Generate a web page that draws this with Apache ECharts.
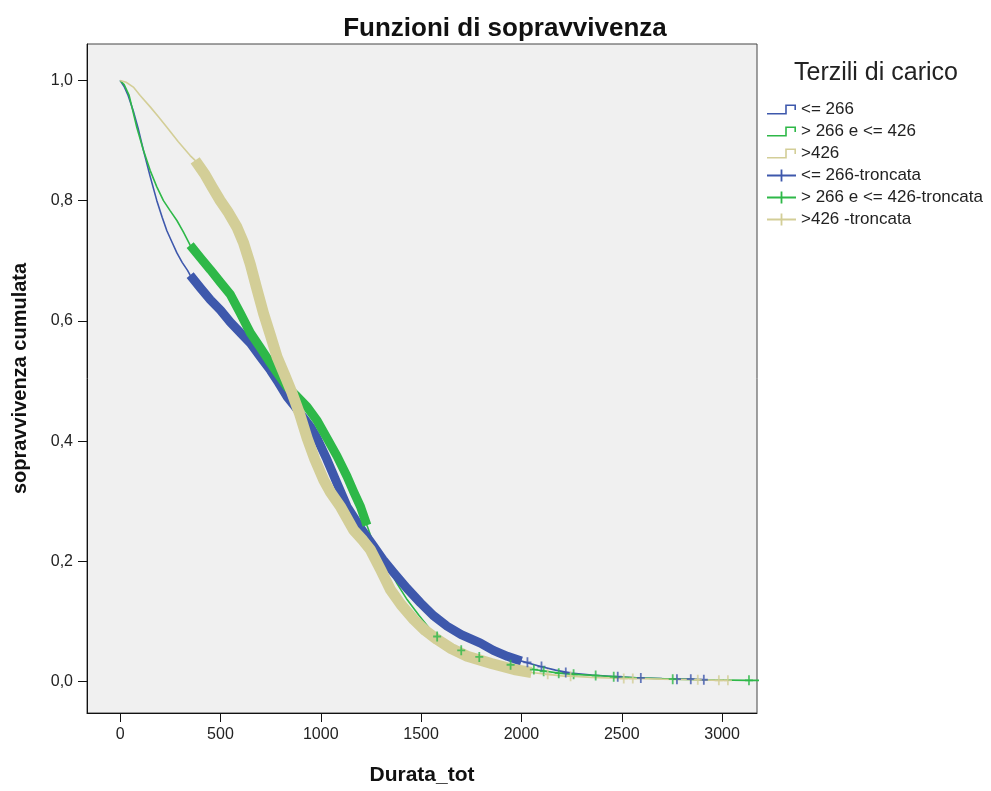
<!DOCTYPE html>
<html>
<head>
<meta charset="utf-8">
<script src="https://cdn.jsdelivr.net/npm/echarts@6/dist/echarts.min.js"></script>
<style>
  html, body { margin: 0; padding: 0; background: #ffffff; }
  #chart { width: 991px; height: 791px; }
</style>
</head>
<body>
<div id="chart"></div>
<script>
// ---- Data ----
const seriesNames = ['<= 266', '> 266 e <= 426', '>426'];
const censorNames = ['<= 266-troncata', '> 266 e <= 426-troncata', '>426 -troncata'];
const xTicks = [0, 500, 1000, 1500, 2000, 2500, 3000];
const yTicks = [0, 0.2, 0.4, 0.6, 0.8, 1.0];

// survival curves: [Durata_tot, sopravvivenza cumulata]
const curveLow = [[0,1.0],[20,0.99],[40,0.975],[65,0.95],[90,0.92],[116,0.884],[150,0.84],[183,0.80],[210,0.772],[233,0.75],[260,0.73],[283,0.713],[310,0.697],[336,0.684],[349,0.676],[400,0.655],[450,0.635],[500,0.618],[549,0.598],[600,0.58],[649,0.563],[700,0.54],[749,0.518],[790,0.497],[832,0.474],[870,0.458],[900,0.445],[950,0.423],[981,0.405],[1030,0.37],[1081,0.33],[1131,0.291],[1200,0.255],[1264,0.225],[1310,0.203],[1364,0.181],[1430,0.155],[1497,0.131],[1560,0.11],[1630,0.092],[1700,0.078],[1796,0.064],[1860,0.052],[1930,0.042],[2000,0.034],[2096,0.025],[2170,0.019],[2246,0.014],[2350,0.011],[2480,0.008],[2595,0.006],[2700,0.005],[2844,0.004],[2910,0.003]];
const curveMid = [[0,1.0],[20,0.993],[45,0.975],[83,0.922],[115,0.885],[150,0.85],[183,0.823],[216,0.80],[250,0.783],[283,0.767],[315,0.748],[349,0.726],[400,0.705],[450,0.685],[500,0.664],[549,0.644],[600,0.612],[649,0.58],[700,0.555],[749,0.53],[790,0.51],[832,0.49],[880,0.475],[932,0.457],[980,0.435],[1031,0.405],[1081,0.375],[1131,0.341],[1165,0.315],[1198,0.291],[1230,0.26],[1256,0.236],[1290,0.215],[1331,0.192],[1380,0.163],[1431,0.136],[1490,0.11],[1547,0.086],[1600,0.071],[1663,0.059],[1750,0.046],[1830,0.037],[1950,0.027],[2062,0.020],[2186,0.014],[2260,0.012],[2370,0.010],[2460,0.008],[2600,0.006],[2754,0.004],[2900,0.003],[3134,0.002],[3200,0.002]];
const curveHigh = [[0,1.0],[30,0.997],[66,0.989],[100,0.975],[150,0.956],[190,0.94],[233,0.922],[290,0.898],[349,0.875],[374,0.867],[420,0.845],[460,0.822],[499,0.80],[540,0.78],[582,0.756],[615,0.73],[649,0.694],[680,0.655],[715,0.612],[750,0.575],[782,0.54],[820,0.51],[857,0.48],[895,0.445],[932,0.405],[970,0.37],[1015,0.335],[1048,0.315],[1100,0.29],[1164,0.252],[1210,0.235],[1248,0.219],[1300,0.185],[1347,0.153],[1400,0.128],[1464,0.103],[1520,0.085],[1580,0.07],[1650,0.055],[1730,0.042],[1850,0.03],[1963,0.020],[2050,0.015],[2131,0.012],[2212,0.009],[2245,0.009],[2350,0.007],[2510,0.005],[2555,0.005],[2700,0.004],[2879,0.003],[2984,0.002],[3029,0.002]];

// time ranges where censored cases are dense (drawn as a band)
const bandLow = [349, 2000];
const bandMid = [349, 1230];
const bandHigh = [374, 2060];

// isolated censoring marks
const censorLowTail = [[2030,0.032],[2100,0.025],[2221,0.015],[2480,0.008],[2595,0.006],[2775,0.004],[2844,0.004],[2909,0.003]];
const censorMidTail = [[1580,0.075],[1700,0.052],[1790,0.041],[1946,0.028],[2062,0.02],[2111,0.017],[2186,0.014],[2260,0.012],[2370,0.010],[2460,0.008],[2754,0.004],[3134,0.002]];
const censorHighTail = [[2131,0.012],[2245,0.009],[2510,0.005],[2555,0.005],[2879,0.003],[2984,0.002],[3029,0.002]];

// ---- Styles ----
const colors = ['#3E58AC', '#2EB848', '#D3CE97'];
const bandWidths = [9, 9, 11];
const FONT = 'Liberation Sans, Arial, sans-serif';

const stepIcon = 'path://M0,8.4 L18.2,8.4 L18.2,0 L29,0 L29,5.5 L27.4,5.5 L27.4,1.6 L19.8,1.6 L19.8,10 L0,10 Z';
const plusIcon = 'path://M0,5.1 L29,5.1 L29,6.9 L0,6.9 Z M13.6,0 L15.4,0 L15.4,12 L13.6,12 Z';
const plusMark = 'path://M0,4.1 L8,4.1 L8,5.9 L0,5.9 Z M3.1,0 L4.9,0 L4.9,10 L3.1,10 Z';

const curves = [curveLow, curveMid, curveHigh];
const bands = [bandLow, bandMid, bandHigh];
const tails = [censorLowTail, censorMidTail, censorHighTail];

const series = [];
curves.forEach((c, i) => {
  series.push({
    name: seriesNames[i], type: 'line', data: c, showSymbol: false, symbol: 'none',
    lineStyle: { color: colors[i], width: 1.6 }, itemStyle: { color: colors[i] },
    z: 2, silent: true, animation: false
  });
});
curves.forEach((c, i) => {
  series.push({
    name: censorNames[i], type: 'line',
    data: c.filter(p => p[0] >= bands[i][0] && p[0] <= bands[i][1]),
    showSymbol: false, symbol: 'none',
    lineStyle: { color: colors[i], width: bandWidths[i], join: 'round' }, itemStyle: { color: colors[i] },
    z: 3, silent: true, animation: false
  });
  series.push({
    name: censorNames[i], type: 'scatter', data: tails[i], symbol: plusMark, symbolSize: [8, 10],
    itemStyle: { color: colors[i] }, z: 3, silent: true, animation: false
  });
});

const legendData = seriesNames.map((n, i) => ({ name: n, icon: stepIcon, itemStyle: { color: colors[i], borderWidth: 0 } }))
  .concat(censorNames.map((n, i) => ({ name: n, icon: plusIcon, itemStyle: { color: colors[i], borderWidth: 0 } })));

const chart = echarts.init(document.getElementById('chart'), null, { renderer: 'canvas' });
chart.setOption({
  animation: false,
  backgroundColor: '#ffffff',
  title: [
    { text: 'Funzioni di sopravvivenza', left: 500, top: 11, textAlign: 'center',
      textStyle: { fontFamily: FONT, fontSize: 26, fontWeight: 'bold', color: '#111' } },
    { text: 'Terzili di carico', left: 789, top: 56,
      textStyle: { fontFamily: FONT, fontSize: 25, fontWeight: 'normal', color: '#222' } }
  ],
  legend: {
    data: legendData, orient: 'vertical', left: 762, top: 96,
    itemWidth: 29, itemHeight: 12, itemGap: 5, symbolKeepAspect: true,
    selectedMode: false,
    textStyle: { fontFamily: FONT, fontSize: 17, color: '#222' },
    itemStyle: { borderWidth: 0 }
  },
  grid: {
    left: 87, right: 234, top: 44, bottom: 77,
    show: true, backgroundColor: '#F0F0F0', borderColor: '#444', borderWidth: 1
  },
  xAxis: {
    type: 'value', min: -165, max: 3174,
    name: 'Durata_tot', nameLocation: 'middle', nameGap: 52,
    nameTextStyle: { fontFamily: FONT, fontSize: 21, fontWeight: 'bold', color: '#111' },
    axisLine: { show: true, onZero: false, lineStyle: { color: '#111', width: 1 } },
    axisTick: { show: true, length: 9, lineStyle: { color: '#111' }, customValues: xTicks },
    axisLabel: { fontFamily: FONT, fontSize: 16, color: '#222', margin: 14, customValues: xTicks,
      formatter: v => String(v) },
    splitLine: { show: false }
  },
  yAxis: {
    type: 'value', min: -0.0523, max: 1.0606,
    name: 'sopravvivenza cumulata', nameLocation: 'middle', nameGap: 57, nameRotate: 90,
    nameTextStyle: { fontFamily: FONT, fontSize: 20, fontWeight: 'bold', color: '#111' },
    axisLine: { show: true, onZero: false, lineStyle: { color: '#111', width: 1 } },
    axisTick: { show: true, length: 9, lineStyle: { color: '#111' }, customValues: yTicks },
    axisLabel: { fontFamily: FONT, fontSize: 16, color: '#222', margin: 14, customValues: yTicks,
      formatter: v => v.toFixed(1).replace('.', ',') },
    splitLine: { show: false }
  },
  series: series
});
</script>
</body>
</html>
